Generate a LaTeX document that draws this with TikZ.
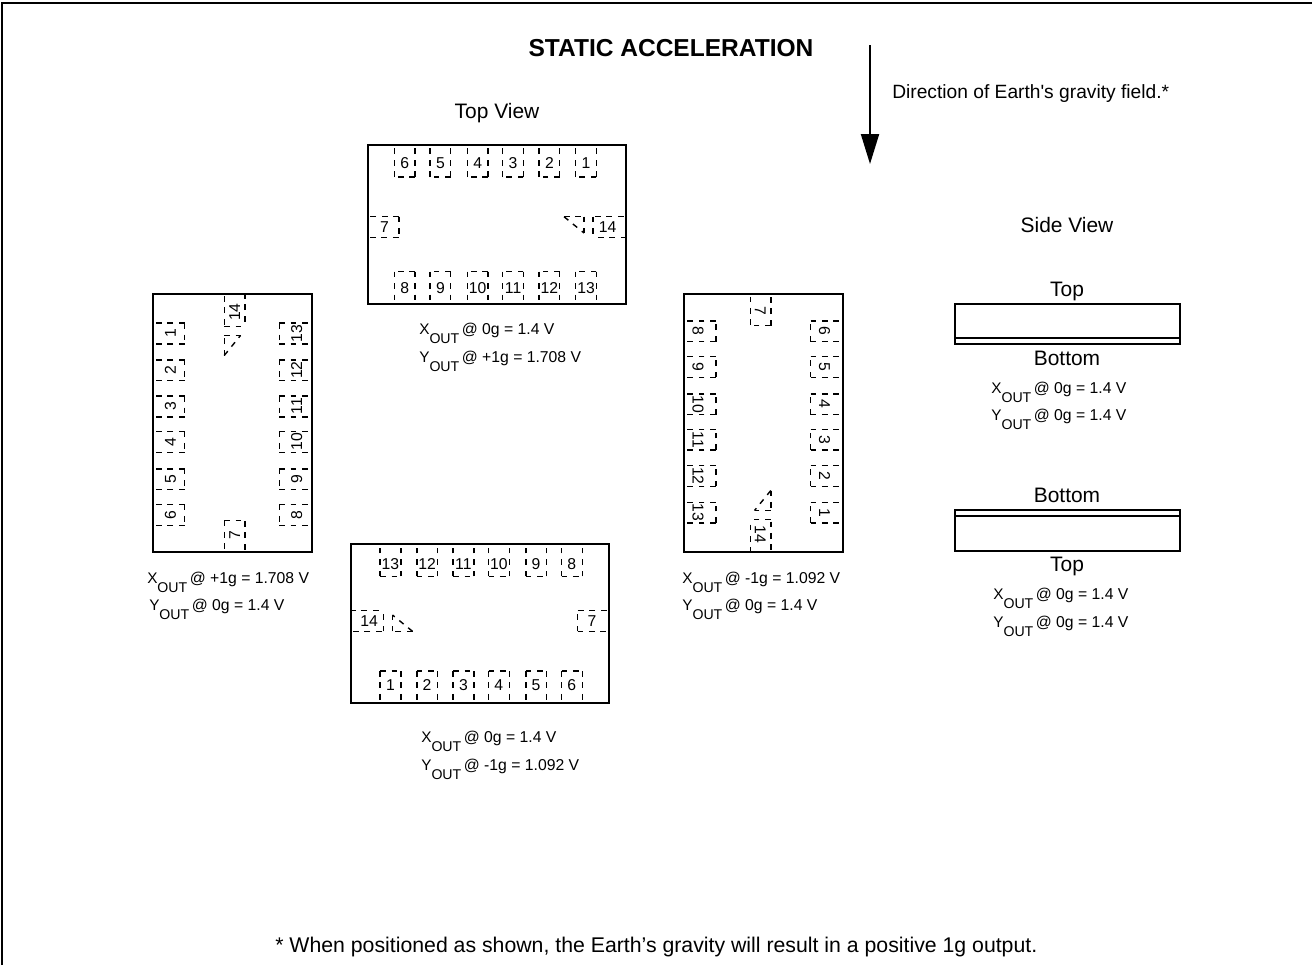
\documentclass[tikz,border=0pt]{standalone}
\usepackage{fontspec}
\setmainfont{Liberation Sans}
\newfontfamily\rawf{Liberation Sans}
\usetikzlibrary{arrows.meta}
\newcommand{\fs}[1]{\fontsize{#1}{#1}\selectfont}
\newcommand{\outlab}[3]{#1\raisebox{-7pt}{\fs{10.6}OUT}\,{\fs{11.8}#2 = #3}}
\tikzset{
  x=0.75pt,y=-0.75pt,
  body/.style={draw=black,line width=1.5pt,fill=white},
  pinbox/.style={draw=black,line width=1.05pt,dash pattern=on 4.2pt off 4.4pt},
  pinnum/.style={inner sep=0pt,font=\fs{11.8}},
  lab/.style={inner sep=0pt,anchor=base,font=\fs{15.7}},
  vlab/.style={inner sep=0pt,anchor=base west,font=\fs{11.5}},
  ttl/.style={inner sep=0pt,anchor=base,font=\fs{18.4}\bfseries},
  side/.style={draw=black,line width=1.5pt},
  gravity/.style={draw=black,line width=1.5pt,-{Triangle[length=22.5pt,width=13.5pt]}}
}
% one pin: left x, inner y, outer y
\newcommand{\pinrow}[3]{%
  \draw[pinbox] (#1+20.7,#2) -- (#1,#2);
  \draw[pinbox] (#1+20.7,#2) -- (#1+20.7,#3);
  \draw[pinbox] (#1,#2) -- (#1,#3);}
% #1 centre x, #2 centre y, #3 rotation, #4 prefix, #5 text rotation, #6 y of lower-row digits
\newcommand{\pkg}[6]{%
  \begin{scope}[shift={(#1,#2)},rotate=#3]
    \node[body,minimum width=193.5pt,minimum height=119.25pt,inner sep=0pt,rotate=#3] (#4b) at (0,0) {};
    \foreach \n/\px in {6/-102.2,5/-66.5,4/-29.2,3/6.2,2/42.5,1/79.2}{
      \pinrow{\px}{-47.5}{-79.5}
      \node[pinnum,rotate=#5] (#4p\n) at (\px+10.4,-61.5) {\n};
    }
    \foreach \n/\px in {8/-102.2,9/-66.5,10/-29.2,11/6.2,12/42.5,13/79.2}{
      \pinrow{\px}{47.2}{79.5}
      \node[pinnum,rotate=#5] (#4p\n) at (\px+10.4,#6) {\n};
    }
    \draw[pinbox] (-97.5,-7.8) -- (-129.5,-7.8);
    \draw[pinbox] (-97.5,-7.8) -- (-97.5,12.8);
    \draw[pinbox] (-126.5,12.8) -- (-97.5,12.8);
    \node[pinnum,rotate=#5] (#4p7) at (-112,2.8) {7};
    \draw[pinbox] (98.5,-7.8) -- (129.5,-7.8);
    \draw[pinbox] (96.5,-7.8) -- (96.5,12.8);
    \draw[pinbox] (101.5,12.8) -- (129.5,12.8);
    \node[pinnum,rotate=#5] (#4p14) at (111,2.8) {14};
    \draw[pinbox] (67.5,-7.8) -- (87.5,-7.8);
    \draw[pinbox] (87.5,-7.8) -- (87.5,8.5);
    \draw[pinbox] (67.5,-7.8) -- (87.5,8.5);
  \end{scope}}
\begin{document}
\begin{tikzpicture}
\useasboundingbox (0,0) rectangle (1312,965);
\coordinate (ftl) at (2,3);
\coordinate (fbl) at (2,965);
\coordinate (ftr) at (1312,3);
\draw[line width=1.5pt] (fbl) -- (ftl) -- (ftr);

\node[ttl] (title) at (671,56) {STATIC ACCELERATION};
\coordinate (gtop) at (870,45);
\coordinate (gbot) at (870,164);
\draw[gravity] (gtop) -- (gbot);
\node[vlab,font=\fs{14.4}\rawf] (dir) at (892,98) {Direction of Earth's gravity field.*};
\node[lab] (tv) at (497,118) {Top View};
\node[lab] (sv) at (1067,232) {Side View};

\pkg{496.5}{224.5}{0}{t}{0}{63.5}
\pkg{232}{423}{90}{l}{90}{64.7}
\pkg{480}{623.5}{180}{d}{0}{59.5}
\pkg{763}{423}{-90}{r}{-90}{65}

\node[vlab] (tx) at (419,334) {\outlab{X}{@ 0g}{1.4 V}};
\node[vlab] (ty) at (419,362) {\outlab{Y}{@ +1g}{1.708 V}};
\node[vlab] (lx) at (147,583) {\outlab{X}{@ +1g}{1.708 V}};
\node[vlab] (ly) at (149,610) {\outlab{Y}{@ 0g}{1.4 V}};
\node[vlab] (dx) at (421,742) {\outlab{X}{@ 0g}{1.4 V}};
\node[vlab] (dy) at (421,770) {\outlab{Y}{@ -1g}{1.092 V}};
\node[vlab] (rx) at (682,583) {\outlab{X}{@ -1g}{1.092 V}};
\node[vlab] (ry) at (682,610) {\outlab{Y}{@ 0g}{1.4 V}};

\node[lab] (s1t) at (1067,296) {Top};
\draw[side] (955,303.5) rectangle (1180,344);
\draw[side] (955,337.5) -- (1180,337.5);
\node[lab] (s1b) at (1067,365) {Bottom};
\node[vlab] (s1x) at (991,393) {\outlab{X}{@ 0g}{1.4 V}};
\node[vlab] (s1y) at (991,420) {\outlab{Y}{@ 0g}{1.4 V}};

\node[lab] (s2b) at (1067,502) {Bottom};
\draw[side] (955,509.5) rectangle (1180,550.5);
\draw[side] (955,516) -- (1180,516);
\node[lab] (s2t) at (1067,571) {Top};
\node[vlab] (s2x) at (993,599) {\outlab{X}{@ 0g}{1.4 V}};
\node[vlab] (s2y) at (993,627) {\outlab{Y}{@ 0g}{1.4 V}};

\node[vlab,font=\fs{15.95}] (foot) at (275,952) {* When positioned as shown, the Earth’s gravity will result in a positive 1g output.};
\end{tikzpicture}
\end{document}
